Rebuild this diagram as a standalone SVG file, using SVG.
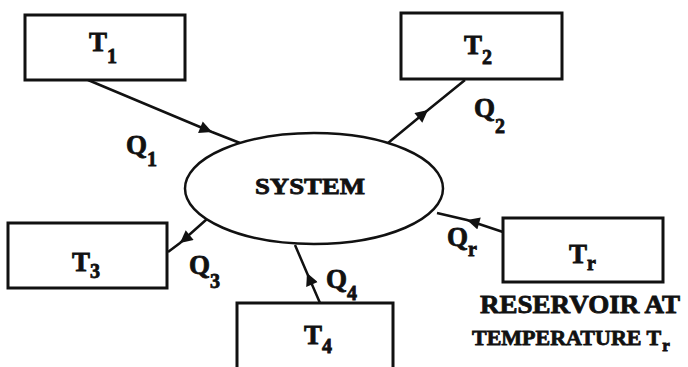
<svg xmlns="http://www.w3.org/2000/svg" width="688" height="367" viewBox="0 0 688 367">
<style>
.box{fill:#fff;stroke:#111;stroke-width:3}
.ell{fill:#fff;stroke:#111;stroke-width:2.5}
.conn{fill:none;stroke:#111;stroke-width:2.5;marker-mid:url(#ah)}
.t{font-family:"Liberation Serif",serif;font-weight:bold;fill:#111;stroke:#111;stroke-width:0.8}
.big{font-size:27px}
.sub{font-size:20px}
</style>
<defs>
<marker id="ah" viewBox="0 0 10 10" refX="10" refY="5" markerWidth="5.5" markerHeight="5" orient="auto" markerUnits="strokeWidth">
<path d="M0,0 L10,5 L0,10 z" fill="#111"/>
</marker>
</defs>
<g id="connectors">
<polyline class="conn" points="88,80 212,132 240,143"/>
<polyline class="conn" points="388,143 428,110 465,80"/>
<polyline class="conn" points="207,219 180,243 168,252"/>
<polyline class="conn" points="320,303 307,273 295,245"/>
<polyline class="conn" points="503,232 467,220 437,213"/>
</g>
<g id="system">
<ellipse class="ell" cx="314" cy="188.5" rx="129" ry="55.5"/>
<text class="t" x="255" y="194" font-size="23" textLength="110" lengthAdjust="spacingAndGlyphs">SYSTEM</text>
</g>
<g id="T1">
<rect class="box" x="25" y="15" width="160" height="65"/>
<text class="t big" x="89" y="51">T<tspan class="sub" dy="12">1</tspan></text>
</g>
<g id="T2">
<rect class="box" x="401" y="13" width="161" height="66"/>
<text class="t big" x="464" y="54">T<tspan class="sub" dy="10">2</tspan></text>
</g>
<g id="T3">
<rect class="box" x="8" y="223" width="159" height="65"/>
<text class="t big" x="72" y="271">T<tspan class="sub" dy="7">3</tspan></text>
</g>
<g id="T4">
<rect class="box" x="237" y="303" width="156" height="70"/>
<text class="t big" x="304" y="344">T<tspan class="sub" dy="9">4</tspan></text>
</g>
<g id="Tr">
<rect class="box" x="503" y="218" width="160" height="64"/>
<text class="t big" x="569" y="263">T<tspan class="sub" dy="7">r</tspan></text>
<text class="t" x="480" y="313" font-size="25" textLength="200" lengthAdjust="spacingAndGlyphs">RESERVOIR AT</text>
<text class="t" x="472" y="345" font-size="22">TEMPERATURE T<tspan font-size="17" dx="1" dy="6">r</tspan></text>
</g>
<g id="labels">
<text class="t big" x="126" y="154">Q<tspan class="sub" dy="12">1</tspan></text>
<text class="t big" x="474" y="117">Q<tspan class="sub" dy="16">2</tspan></text>
<text class="t big" x="189" y="274">Q<tspan class="sub" dy="14">3</tspan></text>
<text class="t big" x="326" y="288">Q<tspan class="sub" dy="12">4</tspan></text>
<text class="t big" x="447" y="246">Q<tspan class="sub" dy="10">r</tspan></text>
</g>
</svg>
